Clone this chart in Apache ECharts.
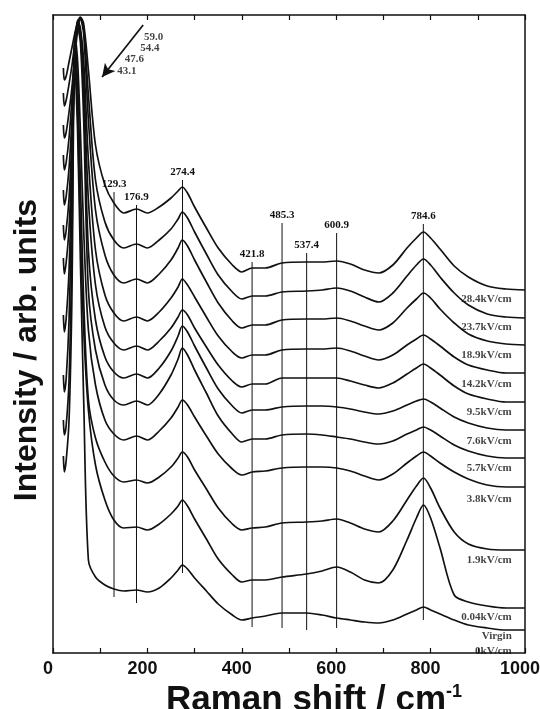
<!DOCTYPE html>
<html><head><meta charset="utf-8">
<script src="https://cdn.jsdelivr.net/npm/echarts@6/dist/echarts.min.js"></script>
<style>html,body{margin:0;padding:0;background:#fff}#c{width:540px;height:709px}</style>
</head><body><div id="c"></div>
<script>
// Raman shift grid (cm-1)
const shift = [22,24,28,34,40,46,52,58,65,75,90,110,129,150,177,200,225,250,265,274,285,300,325,350,380,400,422,450,485,537,570,601,630,660,690,720,750,770,785,800,820,850,880,920,960,1000];

// Stacked spectra (arb. units, offset included), top to bottom
const s28_4 = [585,573,577,591,605,619,631,636,629,583,508,468,450,440,444,440,446,455,462,466,460,446,425,405,388,381,385,385,390,391,391,392,389,383,380,388,405,415,421,415,404,387,376,367,364,363];
const s23_7 = [560,547,553,569,587,609,627,635,625,558,473,431,413,405,409,405,413,424,434,441,435,421,399,378,361,354,357,357,361,362,363,365,362,356,351,360,377,388,394,388,376,360,348,339,336,335];
const s18_9 = [528,515,521,541,565,595,621,634,619,533,443,398,378,370,374,370,379,393,405,413,407,393,371,350,332,325,328,328,333,334,334,335,332,327,323,330,345,354,360,355,344,330,319,312,309,308];
const s14_2 = [498,483,491,515,553,598,633,625,593,493,403,358,340,332,336,332,341,355,366,374,368,356,336,317,301,295,298,298,303,304,304,305,302,297,293,298,308,314,318,314,307,296,288,283,280,280];
const s9_5  = [463,448,457,485,533,591,631,621,573,453,368,326,310,303,307,303,312,325,336,343,338,325,306,288,272,266,269,269,275,275,275,275,272,268,265,270,279,285,289,285,278,267,259,254,251,251];
const s7_6  = [428,413,423,455,513,585,629,617,558,403,333,296,281,275,279,275,285,302,317,327,321,307,285,264,247,240,243,243,246,247,247,246,244,241,239,242,248,252,254,251,245,236,230,225,223,223];
const s5_7  = [395,379,391,425,493,578,626,611,533,363,303,268,253,248,252,248,259,278,294,305,298,283,260,237,219,211,214,214,218,219,218,216,214,211,209,212,219,223,226,223,217,208,202,197,195,195];
const s3_8  = [338,321,335,383,483,621,593,523,423,323,268,233,219,213,217,213,222,235,246,253,248,236,217,199,184,178,181,182,185,186,186,185,182,177,173,179,190,197,201,197,190,181,174,168,166,166];
const s1_9  = [278,261,275,333,453,613,573,473,353,253,215,191,177,171,173,170,176,186,195,201,196,183,164,145,129,123,125,126,130,131,132,134,130,124,121,132,153,167,175,165,145,121,109,104,103,103];
const s0_04 = [233,218,228,273,403,603,543,423,323,243,188,153,133,125,126,123,129,139,147,153,147,134,114,94,78,71,73,73,76,79,82,86,81,73,70,83,113,135,148,135,105,58,51,47,45,45];
const sVirgin = [197,181,193,233,353,593,523,393,253,93,76,68,64,62,63,61,65,75,83,88,84,75,62,49,38,33,35,37,40,40,38,35,33,31,30,33,39,43,46,43,39,33,28,25,23,23];

const fieldLabels = ['28.4kV/cm','23.7kV/cm','18.9kV/cm','14.2kV/cm','9.5kV/cm','7.6kV/cm','5.7kV/cm','3.8kV/cm','1.9kV/cm','0.04kV/cm','Virgin\n0kV/cm'];
const fieldLabelLevels = [354,326,298,269,241,212,185,154,93,36,9];

// Assigned Raman modes (vertical guide lines)
const peakShifts = [129.3,176.9,274.4,421.8,485.3,537.4,600.9,784.6];
const peakLineTops = [461,448,473,391,430,400,420,429];
const peakLineBottoms = [56,50,80,26,25,23,25,33];

// Low-frequency soft mode positions (annotation)
const lfPeaks = ['59.0','54.4','47.6','43.1'];
const lfLabelShift = [193,185,152,136];
const lfLabelLevel = [616,605,594,582];

const xTickLabels = [0,200,400,600,800,1000];

const spectra = [s28_4,s23_7,s18_9,s14_2,s9_5,s7_6,s5_7,s3_8,s1_9,s0_04,sVirgin];
const INK = '#111';
const serifLbl = {fontFamily:'Liberation Serif', fontWeight:'bold', fontSize:11, color:INK};

const series = [];
spectra.forEach((ys,i)=>{
  series.push({
    type:'line', name: fieldLabels[i], xAxisIndex:0, yAxisIndex:0,
    data: shift.map((x,j)=>[x, ys[j]]),
    showSymbol:false, symbol:'none', smooth:0.3,
    lineStyle:{color:INK, width:1.7}, z:3, silent:true
  });
});
peakShifts.forEach((p,i)=>{
  series.push({
    type:'line', xAxisIndex:0, yAxisIndex:0, showSymbol:true, symbol:'circle', symbolSize:0,
    itemStyle:{color:INK},
    lineStyle:{color:INK, width:1}, z:2, silent:true,
    data:[
      {value:[p, peakLineTops[i]], label:{show:true, position:'top', distance:2, formatter:p.toFixed(1), ...serifLbl}},
      {value:[p, peakLineBottoms[i]], label:{show:false}}
    ]
  });
});
series.push({
  type:'scatter', symbolSize:0, silent:true,
  data: fieldLabelLevels.map((y,i)=>({value:[972,y], label:{show:true, position:'left', distance:0, formatter:fieldLabels[i], lineHeight:15, ...serifLbl}}))
});
series.push({
  type:'scatter', symbolSize:0, silent:true,
  data: lfPeaks.map((t,i)=>({value:[lfLabelShift[i], lfLabelLevel[i]], label:{show:true, position:'right', distance:0, formatter:t, ...serifLbl}})),
  markLine:{silent:true, symbol:['none','arrow'], symbolSize:[10,13], label:{show:false},
    lineStyle:{color:INK, width:1.7, type:'solid'},
    data:[[{coord:[191,628]},{coord:[104,576]}]]}
});

const axisFont = {fontFamily:'Liberation Sans', fontWeight:'bold', color:INK};
const chart = echarts.init(document.getElementById('c'), null, {renderer:'canvas'});
chart.setOption({
  animation:false,
  backgroundColor:'#fff',
  grid:{left:53, right:15, top:15, bottom:56, outerBoundsMode:'none', containLabel:false},
  xAxis:[{
    type:'value', min:0, max:1000, interval:200, position:'bottom',
    axisLine:{show:true, onZero:false, lineStyle:{color:INK, width:1.5}},
    axisTick:{show:true, inside:true, length:5, lineStyle:{color:INK, width:1.2}},
    minorTick:{show:true, splitNumber:2, length:5, lineStyle:{color:INK, width:1.2}},
    splitLine:{show:false},
    axisLabel:{show:true, margin:7, fontSize:18, padding:[0,10,0,0], ...axisFont, formatter:(v)=> xTickLabels.includes(v)? String(v):''},
    name:'{b|Raman shift / cm}{s|-1}', nameLocation:'middle', nameGap:23,
    nameTextStyle:{padding:[0,0,0,50], rich:{
      b:{fontSize:35, ...axisFont},
      s:{fontSize:18, ...axisFont, verticalAlign:'top'}
    }}
  },{
    type:'value', min:0, max:1000, interval:200, position:'top',
    axisLine:{show:true, onZero:false, lineStyle:{color:INK, width:1.5}},
    axisTick:{show:true, inside:true, length:5, lineStyle:{color:INK, width:1.2}},
    minorTick:{show:true, splitNumber:2, length:5, lineStyle:{color:INK, width:1.2}},
    splitLine:{show:false}, axisLabel:{show:false}
  }],
  yAxis:[{
    type:'value', min:0, max:638, position:'left',
    axisLine:{show:true, onZero:false, lineStyle:{color:INK, width:1.5}},
    axisTick:{show:false}, axisLabel:{show:false}, splitLine:{show:false},
    name:'Intensity / arb. units', nameLocation:'middle', nameGap:10, nameRotate:90,
    nameTextStyle:{fontSize:32, ...axisFont, padding:[0,32,0,0]}
  },{
    type:'value', min:0, max:638, position:'right',
    axisLine:{show:true, onZero:false, lineStyle:{color:INK, width:1.5}},
    axisTick:{show:false}, axisLabel:{show:false}, splitLine:{show:false}
  }],
  series
});
</script></body></html>
